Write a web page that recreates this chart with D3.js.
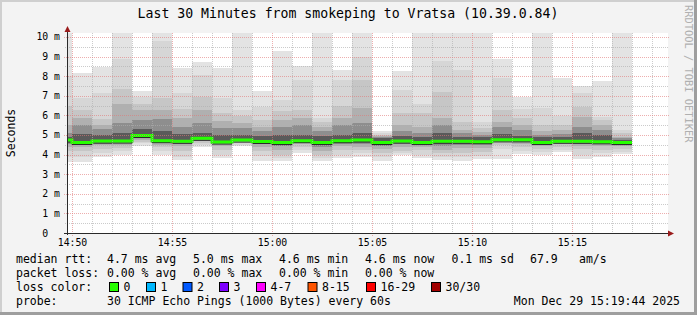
<!DOCTYPE html>
<html>
<head>
<meta charset="utf-8">
<script src="https://cdn.jsdelivr.net/npm/d3@7"></script>
<style>
  body { margin: 0; background: #fff; }
  svg text { font-family: "DejaVu Sans Mono", monospace; white-space: pre; }
</style>
</head>
<body>
<svg id="chart" width="697" height="315"></svg>
<script>
// ── Data ──
const minutes = ["14:49","14:50","14:51","14:52","14:53","14:54","14:55","14:56","14:57","14:58",
                 "14:59","15:00","15:01","15:02","15:03","15:04","15:05","15:06","15:07","15:08",
                 "15:09","15:10","15:11","15:12","15:13","15:14","15:15","15:16","15:17"];

// median rtt per minute, ms
const median = [4.74, 4.62, 4.69, 4.69, 4.97, 4.71, 4.68, 4.83, 4.64, 4.74,
                4.67, 4.61, 4.71, 4.61, 4.71, 4.74, 4.61, 4.69, 4.61, 4.68,
                4.68, 4.66, 4.75, 4.75, 4.62, 4.68, 4.68, 4.65, 4.61];

// smoke: upper ping quantiles, outermost -> innermost (ms)
const smokeHigh = [
  [10.2, 8.0, 6.5, 5.5, 5.1, 4.9],
  [8.18, 6.87, 6.28, 5.85, 5.51, 5.05],
  [8.45, 7.13, 5.8, 5.51, 5.31, 5.0],
  [10.2, 8.88, 7.35, 6.6, 5.6, 5.1],
  [7.25, 6.96, 6.6, 6.28, 5.77, 5.31],
  [10.2, 9.81, 6.87, 6.28, 5.8, 5.2],
  [8.43, 7.13, 6.33, 5.85, 5.4, 5.05],
  [8.7, 8.06, 6.96, 6.28, 5.6, 5.1],
  [8.40, 6.87, 6.11, 5.7, 5.35, 5.0],
  [10.2, 6.28, 5.98, 5.6, 5.35, 5.0],
  [7.22, 6.42, 5.77, 5.43, 5.2, 4.95],
  [9.26, 6.79, 6.2, 5.77, 5.43, 5.0],
  [8.5, 7.8, 6.28, 5.85, 5.5, 5.0],
  [10.2, 5.85, 5.68, 5.43, 5.2, 4.95],
  [8.32, 7.81, 6.5, 5.85, 5.5, 5.0],
  [10.2, 9.0, 7.8, 6.4, 5.6, 5.1],
  [5.22, 5.1, 5.0, 4.95, 4.9, 4.82],
  [8.27, 7.30, 6.1, 5.51, 5.2, 4.95],
  [10.2, 6.6, 6.1, 5.43, 5.1, 4.92],
  [10.2, 8.75, 7.17, 5.85, 5.5, 5.1],
  [10.2, 8.32, 5.68, 5.26, 5.09, 4.92],
  [10.2, 5.68, 5.35, 5.15, 5.0, 4.92],
  [8.86, 7.9, 6.28, 5.68, 5.43, 5.05],
  [6.96, 6.31, 5.85, 5.51, 5.26, 4.95],
  [10.2, 6.37, 5.51, 5.2, 5.0, 4.9],
  [7.93, 5.98, 5.5, 5.26, 5.05, 4.92],
  [7.51, 7.13, 6.45, 5.94, 5.43, 5.09],
  [7.76, 5.92, 5.77, 5.51, 5.26, 5.0],
  [10.2, 5.26, 5.09, 4.92, 4.85, 4.75]
];

// smoke: lower ping quantiles, outermost -> innermost (ms)
const smokeLow = [
  [3.64, 3.9, 4.2, 4.4, 4.55, 4.65],
  [3.64, 3.89, 4.2, 4.37, 4.48, 4.55],
  [3.86, 4.06, 4.26, 4.48, 4.56, 4.62],
  [3.98, 4.2, 4.35, 4.5, 4.58, 4.63],
  [4.46, 4.58, 4.66, 4.75, 4.85, 4.92],
  [3.98, 4.2, 4.4, 4.5, 4.6, 4.66],
  [3.72, 3.89, 4.2, 4.45, 4.55, 4.62],
  [4.40, 4.5, 4.6, 4.68, 4.74, 4.78],
  [3.81, 4.0, 4.25, 4.45, 4.52, 4.58],
  [4.42, 4.5, 4.58, 4.63, 4.67, 4.7],
  [3.66, 3.95, 4.2, 4.4, 4.52, 4.6],
  [3.67, 3.8, 4.0, 4.25, 4.45, 4.53],
  [4.07, 4.25, 4.4, 4.52, 4.6, 4.66],
  [3.65, 3.81, 4.0, 4.2, 4.4, 4.52],
  [3.81, 4.0, 4.25, 4.45, 4.56, 4.63],
  [3.89, 4.06, 4.23, 4.4, 4.55, 4.65],
  [3.67, 3.9, 4.1, 4.3, 4.42, 4.5],
  [3.98, 4.06, 4.2, 4.4, 4.55, 4.63],
  [3.84, 4.0, 4.23, 4.4, 4.52, 4.58],
  [3.72, 3.89, 4.06, 4.23, 4.45, 4.6],
  [3.67, 3.9, 4.1, 4.35, 4.5, 4.62],
  [3.78, 3.95, 4.15, 4.35, 4.5, 4.58],
  [3.76, 4.3, 4.5, 4.62, 4.7, 4.72],
  [4.03, 4.2, 4.4, 4.55, 4.65, 4.7],
  [3.98, 4.15, 4.3, 4.45, 4.55, 4.6],
  [4.12, 4.25, 4.4, 4.52, 4.6, 4.65],
  [3.78, 4.0, 4.3, 4.45, 4.56, 4.63],
  [3.89, 4.06, 4.25, 4.45, 4.56, 4.62],
  [4.01, 4.15, 4.3, 4.42, 4.5, 4.55]
];

const yTicks = [0, 1, 2, 3, 4, 5, 6, 7, 8, 9, 10];
const yTickLabels = ["0  ", "1 m", "2 m", "3 m", "4 m", "5 m", "6 m", "7 m", "8 m", "9 m", "10 m"];

const lossLabels = ["0", "1", "2", "3", "4-7", "8-15", "16-29", "30/30"];
const lossColors = ["#26ff00", "#00b8ff", "#0059ff", "#7e00ff", "#ff00ff", "#ff5500", "#ff0000", "#a10000"];

const rttLegend  = ["4.7 ms avg", "5.0 ms max", "4.6 ms min", "4.6 ms now", "0.1 ms sd", "67.9", "am/s"];
const lossLegend = ["0.00 % avg", "0.00 % max", "0.00 % min", "0.00 % now"];
const probeText  = "30 ICMP Echo Pings (1000 Bytes) every 60s";
const stampText  = "Mon Dec 29 15:19:44 2025";
const titleText  = "Last 30 Minutes from smokeping to Vratsa (10.39.0.84)";

// ── Layout ──
const W = 697, H = 315;
const plot = { left: 67, right: 667, top: 33, bottom: 233 };
const smokeShades = ["#e3e3e3", "#d6d6d6", "#c6c6c6", "#b0b0b0", "#8e8e8e", "#5a5a5a"];

const svg = d3.select("#chart");

// frame
svg.append("rect").attr("width", W).attr("height", H).attr("fill", "#f3f3f3");
svg.append("rect").attr("x", 0).attr("y", 0).attr("width", W).attr("height", 2).attr("fill", "#cfcfcf");
svg.append("rect").attr("x", 0).attr("y", 0).attr("width", 2).attr("height", H).attr("fill", "#cfcfcf");
svg.append("rect").attr("x", 0).attr("y", H - 3).attr("width", W).attr("height", 3).attr("fill", "#9e9e9e");
svg.append("rect").attr("x", W - 3).attr("y", 0).attr("width", 3).attr("height", H).attr("fill", "#9e9e9e");

// scales
const parseT = d3.timeParse("%Y-%m-%d %H:%M");
const times = minutes.map(m => parseT("2025-12-29 " + m));
const x = d3.scaleTime()
    .domain([new Date(2025, 11, 29, 14, 49, 45), new Date(2025, 11, 29, 15, 19, 45)])
    .range([plot.left, plot.right]);
const y = d3.scaleLinear().domain([0, 10.2]).range([plot.bottom, plot.top]);

// canvas
svg.append("rect")
    .attr("x", plot.left).attr("y", plot.top)
    .attr("width", plot.right - plot.left + 1).attr("height", plot.bottom - plot.top)
    .attr("fill", "#fff");

svg.append("clipPath").attr("id", "clip")
  .append("rect")
    .attr("x", plot.left).attr("y", plot.top)
    .attr("width", plot.right - plot.left).attr("height", plot.bottom - plot.top);

const g = svg.append("g").attr("clip-path", "url(#clip)");

// ── Smoke ──
smokeShades.forEach((shade, k) => {
    g.selectAll(null)
        .data(times)
        .enter().append("rect")
        .attr("shape-rendering", "crispEdges")
        .attr("x", d => Math.round(x(d)))
        .attr("width", d => Math.round(x(d3.timeMinute.offset(d, 1))) - Math.round(x(d)))
        .attr("y", (d, i) => Math.round(y(Math.min(smokeHigh[i][k], 10.2))))
        .attr("height", (d, i) => Math.round(y(smokeLow[i][k])) - Math.round(y(Math.min(smokeHigh[i][k], 10.2))))
        .attr("fill", shade);
});

// ── Median line ──
const medPts = times.map((t, i) => [t, median[i]]);
medPts.push([d3.timeMinute.offset(times[times.length - 1], 1), median[median.length - 1]]);
const medLine = d3.line().x(d => x(d[0])).y(d => y(d[1])).curve(d3.curveStepAfter);
g.append("path")
    .datum(medPts)
    .attr("fill", "none")
    .attr("stroke", "#222")
    .attr("stroke-width", 1)
    .attr("transform", "translate(0,2)")
    .attr("d", medLine);
g.append("path")
    .datum(medPts)
    .attr("fill", "none")
    .attr("stroke", lossColors[0])
    .attr("stroke-width", 3)
    .attr("d", medLine);

// ── Grid ──
const grid = svg.append("g").attr("shape-rendering", "crispEdges");
const minorX = d3.timeMinute.every(1).range(x.domain()[0], x.domain()[1]);
const majorX = d3.timeMinute.every(5).range(x.domain()[0], x.domain()[1]);
const minorY = d3.range(0.5, 10.2, 1);
const minorCol = "rgba(175,175,175,0.65)", majorCol = "rgba(225,120,120,0.6)";

grid.selectAll(".gx").data(minorX.filter(d => d.getMinutes() % 5 !== 0)).enter().append("line")
    .attr("x1", d => Math.round(x(d)) + 0.5).attr("x2", d => Math.round(x(d)) + 0.5)
    .attr("y1", plot.top).attr("y2", plot.bottom + 2)
    .attr("stroke", minorCol).attr("stroke-dasharray", "1,1");
grid.selectAll(".gy").data(minorY).enter().append("line")
    .attr("x1", plot.left - 2).attr("x2", plot.right + 2)
    .attr("y1", d => Math.round(y(d)) + 0.5).attr("y2", d => Math.round(y(d)) + 0.5)
    .attr("stroke", minorCol).attr("stroke-dasharray", "1,1");
grid.selectAll(".mx").data(majorX).enter().append("line")
    .attr("x1", d => Math.round(x(d)) + 0.5).attr("x2", d => Math.round(x(d)) + 0.5)
    .attr("y1", plot.top).attr("y2", plot.bottom + 3)
    .attr("stroke", majorCol).attr("stroke-dasharray", "1,1");
grid.selectAll(".my").data(yTicks.slice(1)).enter().append("line")
    .attr("x1", plot.left - 3).attr("x2", plot.right + 2)
    .attr("y1", d => Math.round(y(d)) + 0.5).attr("y2", d => Math.round(y(d)) + 0.5)
    .attr("stroke", majorCol).attr("stroke-dasharray", "1,1");

// ── Axes ──
const axisColor = "#2a2a2a", arrowColor = "#9a1b1b";
svg.append("line").attr("shape-rendering", "crispEdges")
    .attr("x1", plot.left + 0.5).attr("x2", plot.left + 0.5)
    .attr("y1", plot.bottom + 2).attr("y2", 31)
    .attr("stroke", axisColor);
svg.append("line").attr("shape-rendering", "crispEdges")
    .attr("x1", plot.left - 3).attr("x2", 669)
    .attr("y1", plot.bottom + 0.5).attr("y2", plot.bottom + 0.5)
    .attr("stroke", axisColor);
svg.append("path").attr("fill", arrowColor)
    .attr("d", `M${plot.left + 0.5},26 L${plot.left - 2.5},32 L${plot.left + 3.5},32 Z`);
svg.append("path").attr("fill", arrowColor)
    .attr("d", `M674,${plot.bottom + 0.5} L668,${plot.bottom - 2.5} L668,${plot.bottom + 3.5} Z`);

// tick labels
svg.append("g").selectAll("text").data(yTicks).enter().append("text")
    .attr("x", 60).attr("y", d => y(d) + 3.5)
    .attr("text-anchor", "end")
    .attr("font-size", 9.8).attr("fill", "#000")
    .text((d, i) => yTickLabels[i]);

svg.append("g").selectAll("text").data(majorX).enter().append("text")
    .attr("x", d => x(d) + 0.5).attr("y", 246)
    .attr("text-anchor", "middle")
    .attr("font-size", 9.8).attr("fill", "#000")
    .text(d => d3.timeFormat("%H:%M")(d));

// ── Titles ──
svg.append("text").attr("x", 348).attr("y", 18).attr("text-anchor", "middle")
    .attr("font-size", 13.2).attr("fill", "#000").text(titleText);
svg.append("text").attr("transform", "translate(15,133) rotate(-90)")
    .attr("text-anchor", "middle").attr("font-size", 11.5).attr("fill", "#000").text("Seconds");
svg.append("text").attr("transform", "translate(685,5) rotate(90)")
    .attr("font-size", 10.4).attr("fill", "#b0b0b0").text("RRDTOOL / TOBI OETIKER");

// ── Legend ──
const legend = svg.append("g").attr("font-size", 11.5).attr("fill", "#000");
const colX = [107, 193, 279, 365, 451.5, 530, 579];
const rowY = [263, 277, 291, 305];

legend.append("text").attr("x", 16).attr("y", rowY[0]).text("median rtt:");
legend.selectAll(".rtt").data(rttLegend).enter().append("text")
    .attr("x", (d, i) => colX[i]).attr("y", rowY[0]).text(d => d);

legend.append("text").attr("x", 16).attr("y", rowY[1]).text("packet loss:");
legend.selectAll(".loss").data(lossLegend).enter().append("text")
    .attr("x", (d, i) => colX[i]).attr("y", rowY[1]).text(d => d);

legend.append("text").attr("x", 16).attr("y", rowY[2]).text("loss color:");
const swatchX = [109, 146, 182.5, 219, 256, 307.5, 366, 431];
const sw = legend.selectAll(".sw").data(lossLabels).enter().append("g");
sw.append("rect")
    .attr("x", (d, i) => swatchX[i] + 0.5).attr("y", 282.5)
    .attr("width", 9).attr("height", 9)
    .attr("fill", (d, i) => lossColors[i])
    .attr("stroke", "#000").attr("stroke-width", 1);
sw.append("text")
    .attr("x", (d, i) => swatchX[i] + 14.5).attr("y", rowY[2])
    .text(d => d);

legend.append("text").attr("x", 16).attr("y", rowY[3]).text("probe:");
legend.append("text").attr("x", 107).attr("y", rowY[3]).text(probeText);
legend.append("text").attr("x", 680).attr("y", rowY[3]).attr("text-anchor", "end").text(stampText);
</script>
</body>
</html>
